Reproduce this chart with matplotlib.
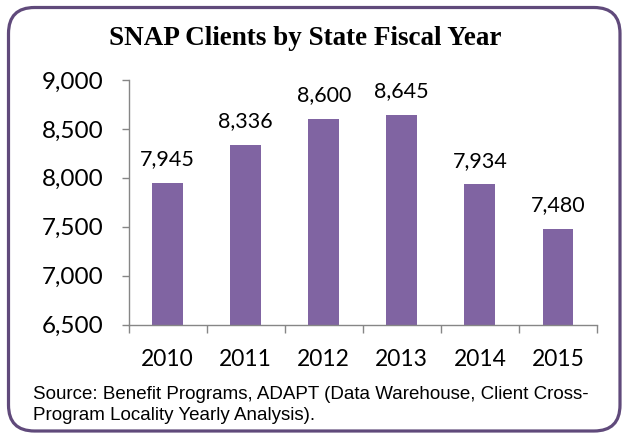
import matplotlib
matplotlib.use("Agg")
import matplotlib.pyplot as plt
from matplotlib.patches import FancyBboxPatch
import numpy as np

years = ["2010", "2011", "2012", "2013", "2014", "2015"]
clients = [7945, 8336, 8600, 8645, 7934, 7480]
yticks = [6500, 7000, 7500, 8000, 8500, 9000]

title = "SNAP Clients by State Fiscal Year"
source_lines = ["Source: Benefit Programs, ADAPT (Data Warehouse, Client Cross-",
                "Program Locality Yearly Analysis)."]

W, H = 625, 437
fig = plt.figure(figsize=(W/100, H/100), dpi=100)
fig.patch.set_facecolor("white")

# rounded border
bx0, by0, bx1, by1 = 8.5, 7.5, 620, 431
r = 26
border = FancyBboxPatch((bx0/W, 1-by1/H), (bx1-bx0)/W, (by1-by0)/H,
                        boxstyle=f"round,pad=0,rounding_size={r/W}",
                        transform=fig.transFigure, facecolor="none",
                        edgecolor="#604A7B", linewidth=2.3, mutation_aspect=W/H)
fig.patches.append(border)

ax_l, ax_r, ax_t, ax_b = 128.5, 597, 80, 324.5
ax = fig.add_axes([ax_l/W, 1-ax_b/H, (ax_r-ax_l)/W, (ax_b-ax_t)/H])
x = np.arange(len(years))
ax.bar(x, clients, width=0.395, color="#8064A2", zorder=2)
ax.set_xlim(-0.5, len(years)-0.5)
ax.set_ylim(6500, 9000)
ax.set_yticks(yticks)
ax.set_yticklabels([f"{v:,}" for v in yticks], fontsize=17.5, family="Lato")
ax.set_xticks(np.arange(-0.5, len(years), 1.0))
ax.set_xticklabels([])
ax.set_xticks(x, minor=True)
ax.set_xticklabels(years, minor=True, fontsize=16.4, family="Lato")
ax.tick_params(axis="x", which="minor", length=0, pad=18)
ax.tick_params(axis="x", which="major", length=5.5, color="#868686", direction="out", width=1)
ax.tick_params(axis="y", length=5, color="#868686", direction="out", pad=13, width=1)
for s in ["top", "right"]:
    ax.spines[s].set_visible(False)
for s in ["left", "bottom"]:
    ax.spines[s].set_color("#868686")
    ax.spines[s].set_linewidth(1.0)

for xi, v in zip(x, clients):
    ax.annotate(f"{v:,}", (xi, v), xytext=(0, 12.7), textcoords="offset points",
                ha="center", va="baseline", fontsize=15.5, family="Lato")

fig.text(305.5/W, 1-45/H, title, ha="center", va="baseline", fontsize=19.5,
         fontweight="bold", family="Liberation Serif")
for i, line in enumerate(source_lines):
    fig.text(33/W, 1-(399.3 + 20.7*i)/H, line, ha="left", va="baseline",
             fontsize=13.5, family="Liberation Sans")

fig.savefig("out.png", dpi=100)
